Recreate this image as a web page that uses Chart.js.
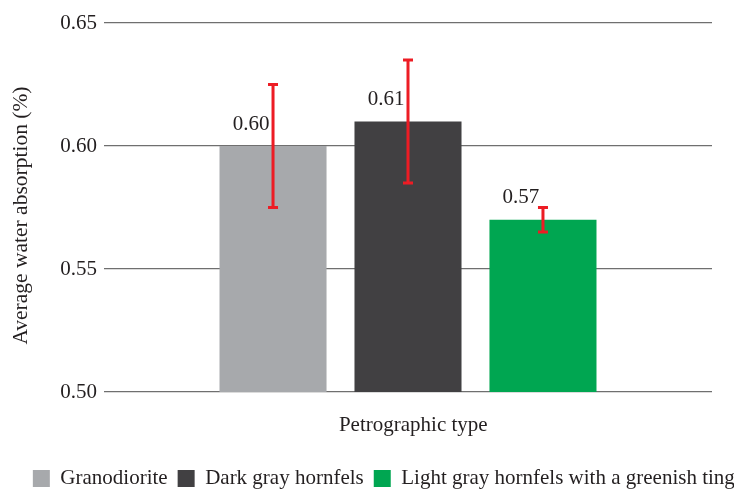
<!DOCTYPE html>
<html>
<head>
<meta charset="utf-8">
<script src="https://cdn.jsdelivr.net/npm/chart.js@4.4.1/dist/chart.umd.min.js"></script>
<style>
  html, body { margin: 0; padding: 0; background: #ffffff; overflow: hidden; width: 734px; height: 489px; }
  #wrap { position: absolute; left: 0; top: 0; }
</style>
</head>
<body>
<div id="wrap"><canvas id="c" width="777" height="499"></canvas></div>
<script>
// ---- data ----
const categories = [''];
const seriesNames = ['Granodiorite', 'Dark gray hornfels', 'Light gray hornfels with a greenish tinge'];
const seriesValues = [0.60, 0.61, 0.57];
const seriesErrors = [0.025, 0.025, 0.005];
const yTickMin = 0.50;
const yTickMax = 0.65;
const yTickStep = 0.05;
const xTitle = 'Petrographic type';
const yTitle = 'Average water absorption (%)';

// ---- styles ----
const barColors = ['#a7a9ac', '#414042', '#00a651'];
const errColor = '#ed1c24';
const textColor = '#231f20';
const gridColor = '#6f6f6f';
const FONT = 'Liberation Serif';
const CANVAS_W = 777;
const PLOT_RIGHT = 712;

const datasets = seriesNames.map((name, i) => ({
  label: name,
  data: [seriesValues[i]],
  backgroundColor: barColors[i],
  borderWidth: 0,
  categoryPercentage: 0.666,
  barPercentage: 0.793
}));

const errorBarPlugin = {
  id: 'errorBars',
  afterDatasetsDraw(chart) {
    const ctx = chart.ctx;
    const y = chart.scales.y;
    ctx.save();
    ctx.strokeStyle = errColor;
    ctx.lineWidth = 3;
    ctx.lineCap = 'butt';
    chart.data.datasets.forEach((ds, i) => {
      const meta = chart.getDatasetMeta(i);
      meta.data.forEach((bar, j) => {
        const v = ds.data[j];
        const e = seriesErrors[i];
        const yt = y.getPixelForValue(v + e);
        const yb = y.getPixelForValue(v - e);
        const x = bar.x;
        ctx.beginPath();
        ctx.moveTo(x, yt); ctx.lineTo(x, yb);
        ctx.moveTo(x - 5, yt); ctx.lineTo(x + 5, yt);
        ctx.moveTo(x - 5, yb); ctx.lineTo(x + 5, yb);
        ctx.stroke();
      });
    });
    ctx.restore();
  }
};

const valueLabelPlugin = {
  id: 'valueLabels',
  afterDraw(chart) {
    const ctx = chart.ctx;
    ctx.save();
    ctx.fillStyle = textColor;
    ctx.font = '21px "' + FONT + '"';
    ctx.textAlign = 'center';
    ctx.textBaseline = 'middle';
    chart.data.datasets.forEach((ds, i) => {
      const meta = chart.getDatasetMeta(i);
      meta.data.forEach((bar, j) => {
        ctx.fillText(ds.data[j].toFixed(2), bar.x - 22, bar.y - 22);
      });
    });
    ctx.restore();
  }
};

new Chart(document.getElementById('c'), {
  type: 'bar',
  data: { labels: categories, datasets },
  options: {
    responsive: false,
    animation: false,
    devicePixelRatio: 1,
    layout: { padding: { top: 23, left: 0, right: 0, bottom: 0 } },
    scales: {
      x: {
        grid: { display: false, drawTicks: false },
        border: { display: false },
        ticks: { display: false },
        title: {
          display: true,
          text: '  ' + xTitle,
          color: textColor,
          font: { family: FONT, size: 21 },
          padding: { top: 20.4, bottom: 20.4 }
        }
      },
      y: {
        min: yTickMin,
        max: yTickMax,
        grid: { color: gridColor, lineWidth: 1.2, drawTicks: false },
        border: { display: false },
        ticks: {
          stepSize: yTickStep,
          padding: 7,
          color: textColor,
          font: { family: FONT, size: 21 },
          callback: v => Number(v).toFixed(2)
        },
        title: {
          display: true,
          text: yTitle + '   ',
          color: textColor,
          font: { family: FONT, size: 21.5 },
          padding: { top: 8, bottom: 0 }
        },
        afterFit(s) { s.width = 104; }
      },
      yRight: {
        type: 'linear',
        position: 'right',
        display: true,
        grid: { display: false, drawTicks: false },
        border: { display: false },
        ticks: { display: false },
        afterFit(s) { s.width = CANVAS_W - PLOT_RIGHT; }
      }
    },
    plugins: {
      tooltip: { enabled: false },
      legend: {
        position: 'bottom',
        align: 'center',
        labels: {
          boxWidth: 17,
          boxHeight: 17,
          padding: 10,
          color: textColor,
          font: { family: FONT, size: 21 }
        }
      }
    }
  },
  plugins: [errorBarPlugin, valueLabelPlugin]
});
</script>
</body>
</html>
